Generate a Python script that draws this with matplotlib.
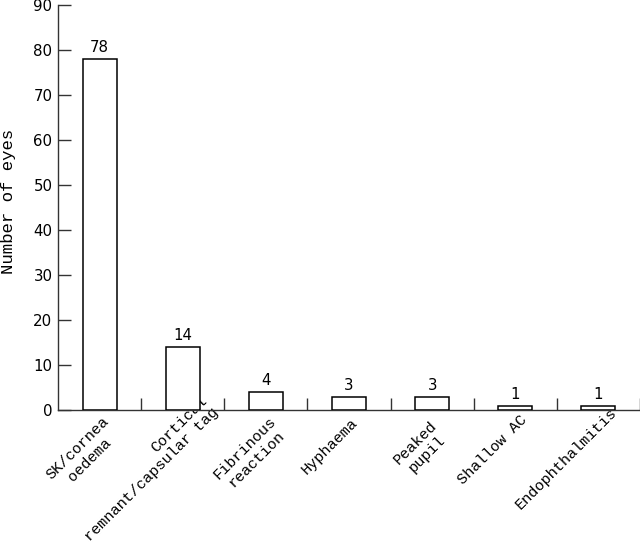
import numpy as np
import matplotlib.pyplot as plt
import matplotlib.transforms as mtransforms

# data
categories = ["SK/cornea\noedema", "Cortical\nremnant/capsular tag", "Fibrinous\nreaction",
              "Hyphaema", "Peaked\npupil", "Shallow AC", "Endophthalmitis"]
counts = [78, 14, 4, 3, 3, 1, 1]
yticks = [0, 10, 20, 30, 40, 50, 60, 70, 80, 90]

mono = 'Liberation Mono'
axcol = '#333333'

fig = plt.figure(figsize=(6.4, 5.45), dpi=100)
ax = fig.add_axes([58/640, (545-410)/545, 582/640, 405/545])

x = np.arange(len(categories))
bars = ax.bar(x, counts, width=0.41, color='white', edgecolor='black', linewidth=1.1, zorder=3)

for xi, c in zip(x, counts):
    ax.text(xi, c + 0.8, str(c), ha='center', va='bottom', fontsize=10.8, family='DejaVu Sans')

ax.set_xlim(-0.5, len(categories) - 0.5)
ax.set_ylim(0, 90)
ax.set_yticks(yticks)
ax.set_yticklabels([str(t) for t in yticks], fontsize=10.8)
ax.tick_params(axis='y', direction='in', length=9, width=1, color=axcol, pad=4)

# category labels at centers, tick marks at boundaries
ax.set_xticks(x)
ax.set_xticks(np.arange(len(categories)) + 0.5, minor=True)
ax.tick_params(axis='x', which='major', length=0, pad=0)
ax.tick_params(axis='x', which='minor', direction='in', length=9, width=1, color=axcol)
labels = ax.set_xticklabels(categories, rotation=45, ha='right', va='top',
                            rotation_mode='anchor', family=mono, fontsize=11,
                            multialignment='center')
# longer labels sit further up/right (anchored partway along the text)
for i, (lab, name) in enumerate(zip(labels, categories)):
    n = max(len(s) for s in name.split('\n'))
    dx = -11 + 1.5 * n
    dy = -17 + 1.45 * n
    if i == 1:
        # keep the long two-line label inside the figure
        dx -= 2
        dy += 4
    lab.set_transform(lab.get_transform() +
                      mtransforms.ScaledTranslation(dx/100, dy/100, fig.dpi_scale_trans))
labels[1].set_multialignment('right')

for s in ['top', 'right']:
    ax.spines[s].set_visible(False)
for s in ['left', 'bottom']:
    ax.spines[s].set_color(axcol)
    ax.spines[s].set_linewidth(1)

ax.set_ylabel('Number of eyes', family=mono, fontsize=12.5)
ax.yaxis.set_label_coords(-42/582, (410-201)/405)

fig.savefig('out.png', dpi=100)
